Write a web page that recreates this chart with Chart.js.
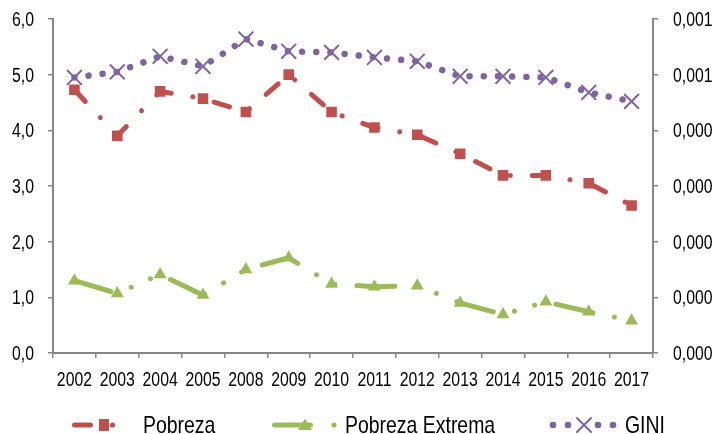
<!DOCTYPE html>
<html>
<head>
<meta charset="utf-8">
<title>Pobreza, Pobreza Extrema y GINI</title>
<script src="https://cdn.jsdelivr.net/npm/chart.js@4.4.0/dist/chart.umd.min.js"></script>
<style>
  html, body { margin: 0; padding: 0; background: #fff; }
  #wrap { width: 718px; height: 434px; }
</style>
</head>
<body>
<div id="wrap"><canvas id="grafico" width="718" height="434"></canvas></div>
<script>
// Datos
const anios = ['2002', '2003', '2004', '2005', '2008', '2009', '2010', '2011', '2012', '2013', '2014', '2015', '2016', '2017'];
const pobreza = [4.73, 3.90, 4.70, 4.57, 4.33, 5.00, 4.33, 4.05, 3.92, 3.58, 3.19, 3.19, 3.05, 2.65];
const pobrezaExtrema = [1.30, 1.07, 1.41, 1.04, 1.50, 1.71, 1.24, 1.19, 1.21, 0.90, 0.69, 0.92, 0.74, 0.58];
const gini = [0.000495, 0.000505, 0.000533, 0.000515, 0.000564, 0.000542, 0.000540, 0.000531, 0.000524, 0.000497, 0.000497, 0.000495, 0.000468, 0.000452];

const ejeIzq = { min: 0, max: 6, paso: 1 };
const ejeDer = { min: 0, max: 0.0006, paso: 0.0001 };

const ROJO = '#C0504D';
const VERDE = '#9BBB59';
const MORADO = '#8064A2';
const GRIS = '#868686';
const FUENTE = "'Liberation Sans', Arial, sans-serif";
const ESTRECHO = 0.81;   // la fuente original es tipo "Arial Narrow"

Chart.defaults.font.family = FUENTE;
Chart.defaults.color = '#000';

const coma = (v, dec) => v.toFixed(dec).replace('.', ',');

function textoEstrecho(ctx, txt, x, y, align) {
  ctx.save();
  ctx.translate(x, y);
  ctx.scale(ESTRECHO, 1);
  ctx.textAlign = align;
  ctx.textBaseline = 'alphabetic';
  ctx.fillText(txt, 0, 0);
  ctx.restore();
}

// rotulos de los ejes (fuente estrecha)
const rotulos = {
  id: 'rotulos',
  afterDraw(chart) {
    const ctx = chart.ctx;
    const { x, y, y1 } = chart.scales;
    ctx.save();
    ctx.fillStyle = '#000';
    ctx.font = '19.5px ' + FUENTE;
    x.ticks.forEach((t, i) => {
      textoEstrecho(ctx, chart.data.labels[i], x.getPixelForTick(i), 386, 'center');
    });
    y.ticks.forEach(t => {
      textoEstrecho(ctx, coma(t.value, 1), 34, y.getPixelForValue(t.value) + 7, 'right');
    });
    y1.ticks.forEach(t => {
      textoEstrecho(ctx, coma(Math.round(t.value * 1000) / 1000, 3), 673, y1.getPixelForValue(t.value) + 7, 'left');
    });
    ctx.restore();
  }
};

// leyenda dibujada a mano (linea + marcador como en Excel)
const leyenda = {
  id: 'leyenda',
  afterDraw(chart) {
    const ctx = chart.ctx;
    const y = 425;
    const ds = chart.data.datasets;
    ctx.save();
    ctx.lineCap = 'round';

    // Pobreza
    ctx.strokeStyle = ROJO; ctx.fillStyle = ROJO; ctx.lineWidth = 5;
    ctx.beginPath(); ctx.moveTo(74.5, y); ctx.lineTo(90.5, y); ctx.stroke();
    ctx.fillRect(99, y - 6, 10, 12);
    ctx.beginPath(); ctx.arc(112.5, y, 2.6, 0, Math.PI * 2); ctx.fill();

    // Pobreza Extrema
    ctx.strokeStyle = VERDE; ctx.fillStyle = VERDE;
    ctx.beginPath(); ctx.moveTo(274.5, y); ctx.lineTo(310.5, y); ctx.stroke();
    ctx.beginPath(); ctx.moveTo(305, y - 6.5); ctx.lineTo(312, y + 5); ctx.lineTo(298, y + 5); ctx.closePath(); ctx.fill();
    ctx.beginPath(); ctx.arc(334, y, 2.6, 0, Math.PI * 2); ctx.fill();

    // GINI
    ctx.fillStyle = MORADO; ctx.strokeStyle = MORADO; ctx.lineWidth = 2;
    [553, 568, 598, 613].forEach(px => {
      ctx.beginPath(); ctx.arc(px, y, 3.3, 0, Math.PI * 2); ctx.fill();
    });
    ctx.beginPath();
    ctx.moveTo(577, y - 7); ctx.lineTo(591, y + 7);
    ctx.moveTo(591, y - 7); ctx.lineTo(577, y + 7);
    ctx.stroke();

    ctx.fillStyle = '#000';
    ctx.font = '24px ' + FUENTE;
    textoEstrecho(ctx, ds[0].label, 143, 433, 'left');
    textoEstrecho(ctx, ds[1].label, 345, 433, 'left');
    textoEstrecho(ctx, ds[2].label, 625, 433, 'left');
    ctx.restore();
  }
};

new Chart(document.getElementById('grafico'), {
  type: 'line',
  data: {
    labels: anios,
    datasets: [
      {
        label: 'Pobreza',
        data: pobreza,
        yAxisID: 'y',
        borderColor: ROJO,
        backgroundColor: ROJO,
        borderWidth: 5,
        borderDash: [16, 22, 0.01, 22],
        borderCapStyle: 'round',
        pointStyle: 'rect',
        pointRadius: 7.5,
        pointBorderWidth: 0,
        pointBackgroundColor: ROJO,
        tension: 0
      },
      {
        label: 'Pobreza Extrema',
        data: pobrezaExtrema,
        yAxisID: 'y',
        borderColor: VERDE,
        backgroundColor: VERDE,
        borderWidth: 5,
        borderDash: [38, 22, 0.01, 21, 0.01, 22],
        borderCapStyle: 'round',
        pointStyle: 'triangle',
        pointRadius: 7.5,
        pointBorderWidth: 0,
        pointBackgroundColor: VERDE,
        tension: 0
      },
      {
        label: 'GINI',
        data: gini,
        yAxisID: 'y1',
        borderColor: MORADO,
        backgroundColor: MORADO,
        borderWidth: 6.5,
        borderDash: [0.01, 14.2],
        borderCapStyle: 'round',
        pointStyle: 'crossRot',
        pointRadius: 10.5,
        pointBorderWidth: 2,
        pointBorderColor: MORADO,
        tension: 0
      }
    ]
  },
  options: {
    responsive: false,
    animation: false,
    devicePixelRatio: 1,
    layout: { padding: { top: 19, left: 0, right: 0, bottom: 0 } },
    plugins: {
      legend: { display: false },
      tooltip: { enabled: false }
    },
    scales: {
      x: {
        offset: true,
        grid: { display: true, offset: true, drawOnChartArea: false, tickLength: 5, color: GRIS, lineWidth: 1.5 },
        border: { color: GRIS, width: 2 },
        ticks: { display: false, autoSkip: false },
        afterFit(s) { s.height = 81; }
      },
      y: {
        position: 'left',
        min: ejeIzq.min,
        max: ejeIzq.max,
        grid: { display: true, drawOnChartArea: false, tickLength: 5, color: GRIS, lineWidth: 1.5 },
        border: { color: GRIS, width: 2 },
        ticks: { display: false, stepSize: ejeIzq.paso },
        afterFit(s) { s.width = 53; }
      },
      y1: {
        position: 'right',
        min: ejeDer.min,
        max: ejeDer.max,
        grid: { display: true, drawOnChartArea: false, tickLength: 5, color: GRIS, lineWidth: 1.5 },
        border: { color: GRIS, width: 2 },
        ticks: { display: false, stepSize: ejeDer.paso },
        afterFit(s) { s.width = 65; }
      }
    }
  },
  plugins: [rotulos, leyenda]
});
</script>
</body>
</html>
